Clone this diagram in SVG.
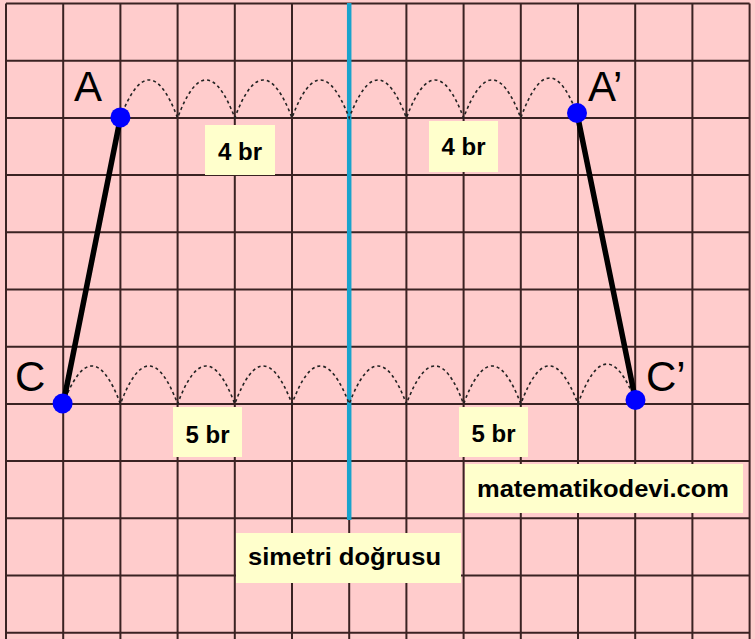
<svg xmlns="http://www.w3.org/2000/svg" width="755" height="639" viewBox="0 0 755 639">
<style>
.grid line{stroke:#3a2222;stroke-width:2}
.arc{fill:none;stroke:#222;stroke-width:1.6;stroke-dasharray:3 3}
.seg{stroke:#000;stroke-width:5.5;stroke-linecap:round}
.pt{fill:#0000ff}
.lbl{font-family:"Liberation Sans",Arial,sans-serif;font-size:42px;fill:#000}
.box{fill:#ffffcc}
.bt{font-family:"Liberation Sans",Arial,sans-serif;font-weight:bold;font-size:24px;fill:#000}
</style>
<rect width="755" height="639" fill="#ffcccc"/>
<g class="grid" id="grid">
<line x1="6" y1="3.5" x2="6" y2="639"/>
<line x1="63.2" y1="3.5" x2="63.2" y2="639"/>
<line x1="120.4" y1="3.5" x2="120.4" y2="639"/>
<line x1="177.6" y1="3.5" x2="177.6" y2="639"/>
<line x1="234.8" y1="3.5" x2="234.8" y2="639"/>
<line x1="292" y1="3.5" x2="292" y2="639"/>
<line x1="349.2" y1="3.5" x2="349.2" y2="639"/>
<line x1="406.4" y1="3.5" x2="406.4" y2="639"/>
<line x1="463.6" y1="3.5" x2="463.6" y2="639"/>
<line x1="520.8" y1="3.5" x2="520.8" y2="639"/>
<line x1="578" y1="3.5" x2="578" y2="639"/>
<line x1="635.2" y1="3.5" x2="635.2" y2="639"/>
<line x1="692.4" y1="3.5" x2="692.4" y2="639"/>
<line x1="749.6" y1="3.5" x2="749.6" y2="639"/>
<line x1="6" y1="3.5" x2="749.6" y2="3.5"/>
<line x1="6" y1="60.7" x2="749.6" y2="60.7"/>
<line x1="6" y1="117.9" x2="749.6" y2="117.9"/>
<line x1="6" y1="175.1" x2="749.6" y2="175.1"/>
<line x1="6" y1="232.3" x2="749.6" y2="232.3"/>
<line x1="6" y1="289.5" x2="749.6" y2="289.5"/>
<line x1="6" y1="346.7" x2="749.6" y2="346.7"/>
<line x1="6" y1="403.9" x2="749.6" y2="403.9"/>
<line x1="6" y1="461.1" x2="749.6" y2="461.1"/>
<line x1="6" y1="518.3" x2="749.6" y2="518.3"/>
<line x1="6" y1="575.5" x2="749.6" y2="575.5"/>
<line x1="6" y1="632.7" x2="749.6" y2="632.7"/>
</g>
<line id="axis" x1="349.2" y1="3" x2="349.2" y2="520" stroke="#19a3cc" stroke-width="4.5"/>
<g id="connectors">
<path class="arc" d="M120.4 117.9 Q149 42 177.6 117.9 Q206 42 234.8 117.9 Q263 42 292 117.9 Q320 42 349.2 117.9 Q378 42 406.4 117.9 Q435 42 463.6 117.9 Q492 42 520.8 117.9 Q549 40 577 114"/>
<path class="arc" d="M63.2 403.9 Q92 328 120.4 403.9 Q149 328 177.6 403.9 Q206 328 234.8 403.9 Q263 328 292 403.9 Q320 328 349.2 403.9 Q378 328 406.4 403.9 Q435 328 463.6 403.9 Q492 328 520.8 403.9 Q549 328 578 403.9 Q606 326 635.2 400.5"/>
<line class="seg" x1="120.4" y1="117.9" x2="63.2" y2="403.9"/>
<line class="seg" x1="577" y1="113" x2="635.5" y2="400"/>
</g>
<g id="A"><circle class="pt" cx="120.4" cy="117.4" r="10"/><text class="lbl" x="74" y="101">A</text></g>
<g id="A2"><circle class="pt" cx="577" cy="113" r="10"/><text class="lbl" x="588" y="101">A’</text></g>
<g id="C"><circle class="pt" cx="62.6" cy="403.5" r="10"/><text class="lbl" x="15" y="391">C</text></g>
<g id="C2"><circle class="pt" cx="635.5" cy="400" r="10"/><text class="lbl" x="646" y="391">C’</text></g>
<g id="l4a"><rect class="box" x="205" y="125" width="70" height="50"/><text class="bt" x="240" y="160" text-anchor="middle">4 br</text></g>
<g id="l4b"><rect class="box" x="429" y="121" width="69" height="51"/><text class="bt" x="463.5" y="155" text-anchor="middle">4 br</text></g>
<g id="l5a"><rect class="box" x="173" y="407" width="69" height="50"/><text class="bt" x="207.5" y="443" text-anchor="middle">5 br</text></g>
<g id="l5b"><rect class="box" x="459" y="407" width="69" height="50"/><text class="bt" x="493.5" y="442" text-anchor="middle">5 br</text></g>
<g id="site"><rect class="box" x="465" y="464" width="278" height="49"/><text class="bt" x="477" y="497" textLength="252" lengthAdjust="spacingAndGlyphs">matematikodevi.com</text></g>
<g id="sym"><rect class="box" x="236" y="533" width="225" height="50"/><text class="bt" x="248" y="565" textLength="193" lengthAdjust="spacingAndGlyphs">simetri doğrusu</text></g>
</svg>
